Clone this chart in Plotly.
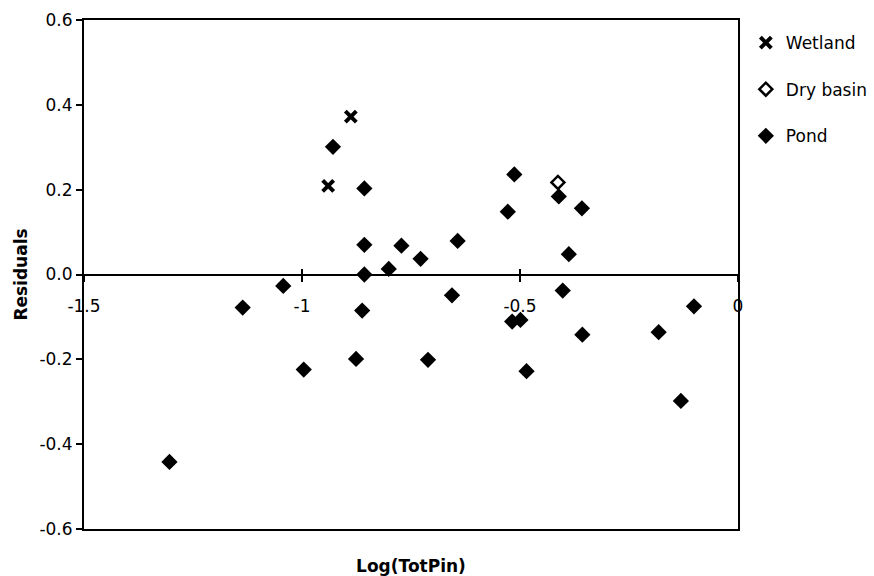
import plotly.graph_objects as go

# ---- data ----
pond_x = [-1.304, -1.136, -1.043, -0.996, -0.929, -0.876, -0.862, -0.857, -0.857, -0.857,
          -0.801, -0.772, -0.728, -0.711, -0.656, -0.643, -0.528, -0.513, -0.518, -0.499,
          -0.485, -0.411, -0.402, -0.388, -0.358, -0.357, -0.182, -0.131, -0.101]
pond_y = [-0.442, -0.078, -0.027, -0.224, 0.301, -0.199, -0.085, 0.203, 0.070, 0.000,
          0.013, 0.068, 0.037, -0.201, -0.049, 0.079, 0.148, 0.236, -0.111, -0.107,
          -0.228, 0.184, -0.038, 0.048, 0.156, -0.142, -0.136, -0.298, -0.075]
wetland_x = [-0.888, -0.940]
wetland_y = [0.372, 0.209]
dry_x = [-0.413]
dry_y = [0.217]

x_ticks = [-1.5, -1.0, -0.5, 0.0]
x_tick_text = ["-1.5", "-1", "-0.5", "0"]
y_ticks = [-0.6, -0.4, -0.2, 0.0, 0.2, 0.4, 0.6]
y_tick_text = ["-0.6", "-0.4", "-0.2", "0.0", "0.2", "0.4", "0.6"]

FONT = "DejaVu Sans"

fig = go.Figure()
fig.add_trace(go.Scatter(
    x=wetland_x, y=wetland_y, mode="markers", name="Wetland", legendgroup="w",
    marker=dict(symbol="x-thin-open", size=11, color="black", line=dict(width=4, color="black"))))
fig.add_trace(go.Scatter(
    x=dry_x, y=dry_y, mode="markers", name="Dry basin", legendgroup="d",
    marker=dict(symbol="diamond-open", size=10, color="black", line=dict(width=2.5, color="black"))))
fig.add_trace(go.Scatter(
    x=pond_x, y=pond_y, mode="markers", name="Pond", legendgroup="p",
    marker=dict(symbol="diamond", size=12.5, color="black", line=dict(width=0))))
# helper traces so the crossing-axis tick layers render
fig.add_trace(go.Scatter(x=x_ticks, y=[0]*4, xaxis="x2", mode="markers",
                         marker=dict(opacity=0), showlegend=False, hoverinfo="skip"))
fig.add_trace(go.Scatter(x=x_ticks, y=[0]*4, xaxis="x3", mode="markers",
                         marker=dict(opacity=0), showlegend=False, hoverinfo="skip"))

fig.update_layout(
    width=874, height=576,
    margin=dict(l=84, r=136, t=20, b=47, autoexpand=False),
    paper_bgcolor="white", plot_bgcolor="white",
    font=dict(family=FONT, size=17, color="black"),
    showlegend=True,
    legend=dict(x=1.012, y=0.990, xanchor="left", yanchor="top",
                font=dict(family=FONT, size=17, color="black"),
                tracegroupgap=21.5, bgcolor="rgba(0,0,0,0)"),
    xaxis=dict(range=[-1.5, 0], showline=True, linewidth=2, linecolor="black", mirror=True,
               showgrid=False, zeroline=False, showticklabels=False, ticks="",
               automargin=False,
               title=dict(text="<b>Log(TotPin)</b>", standoff=30,
                          font=dict(family=FONT, size=17, color="black"))),
    xaxis2=dict(range=[-1.5, 0], overlaying="x", anchor="free", position=0.5, side="bottom",
                showline=False, showgrid=False, zeroline=False, automargin=False,
                tickvals=x_ticks, ticktext=x_tick_text, ticks="outside", ticklen=6,
                tickwidth=1.5, tickcolor="black", ticklabelstandoff=10,
                tickfont=dict(family=FONT, size=17, color="black")),
    xaxis3=dict(range=[-1.5, 0], overlaying="x", anchor="free", position=0.5, side="bottom",
                showline=False, showgrid=False, zeroline=False, showticklabels=False,
                automargin=False,
                tickvals=x_ticks, ticks="inside", ticklen=6, tickwidth=1.5, tickcolor="black"),
    yaxis=dict(range=[-0.6, 0.6], tickvals=y_ticks, ticktext=y_tick_text,
               showline=True, linewidth=2, linecolor="black", mirror=True,
               showgrid=False, zeroline=True, zerolinewidth=2, zerolinecolor="black",
               ticks="outside", ticklen=6, tickwidth=1.5, tickcolor="black",
               automargin=False,
               tickfont=dict(family=FONT, size=17, color="black"),
               title=dict(text="<b>Residuals</b>", standoff=7,
                          font=dict(family=FONT, size=17, color="black"))),
)

fig.write_html("out.html")
